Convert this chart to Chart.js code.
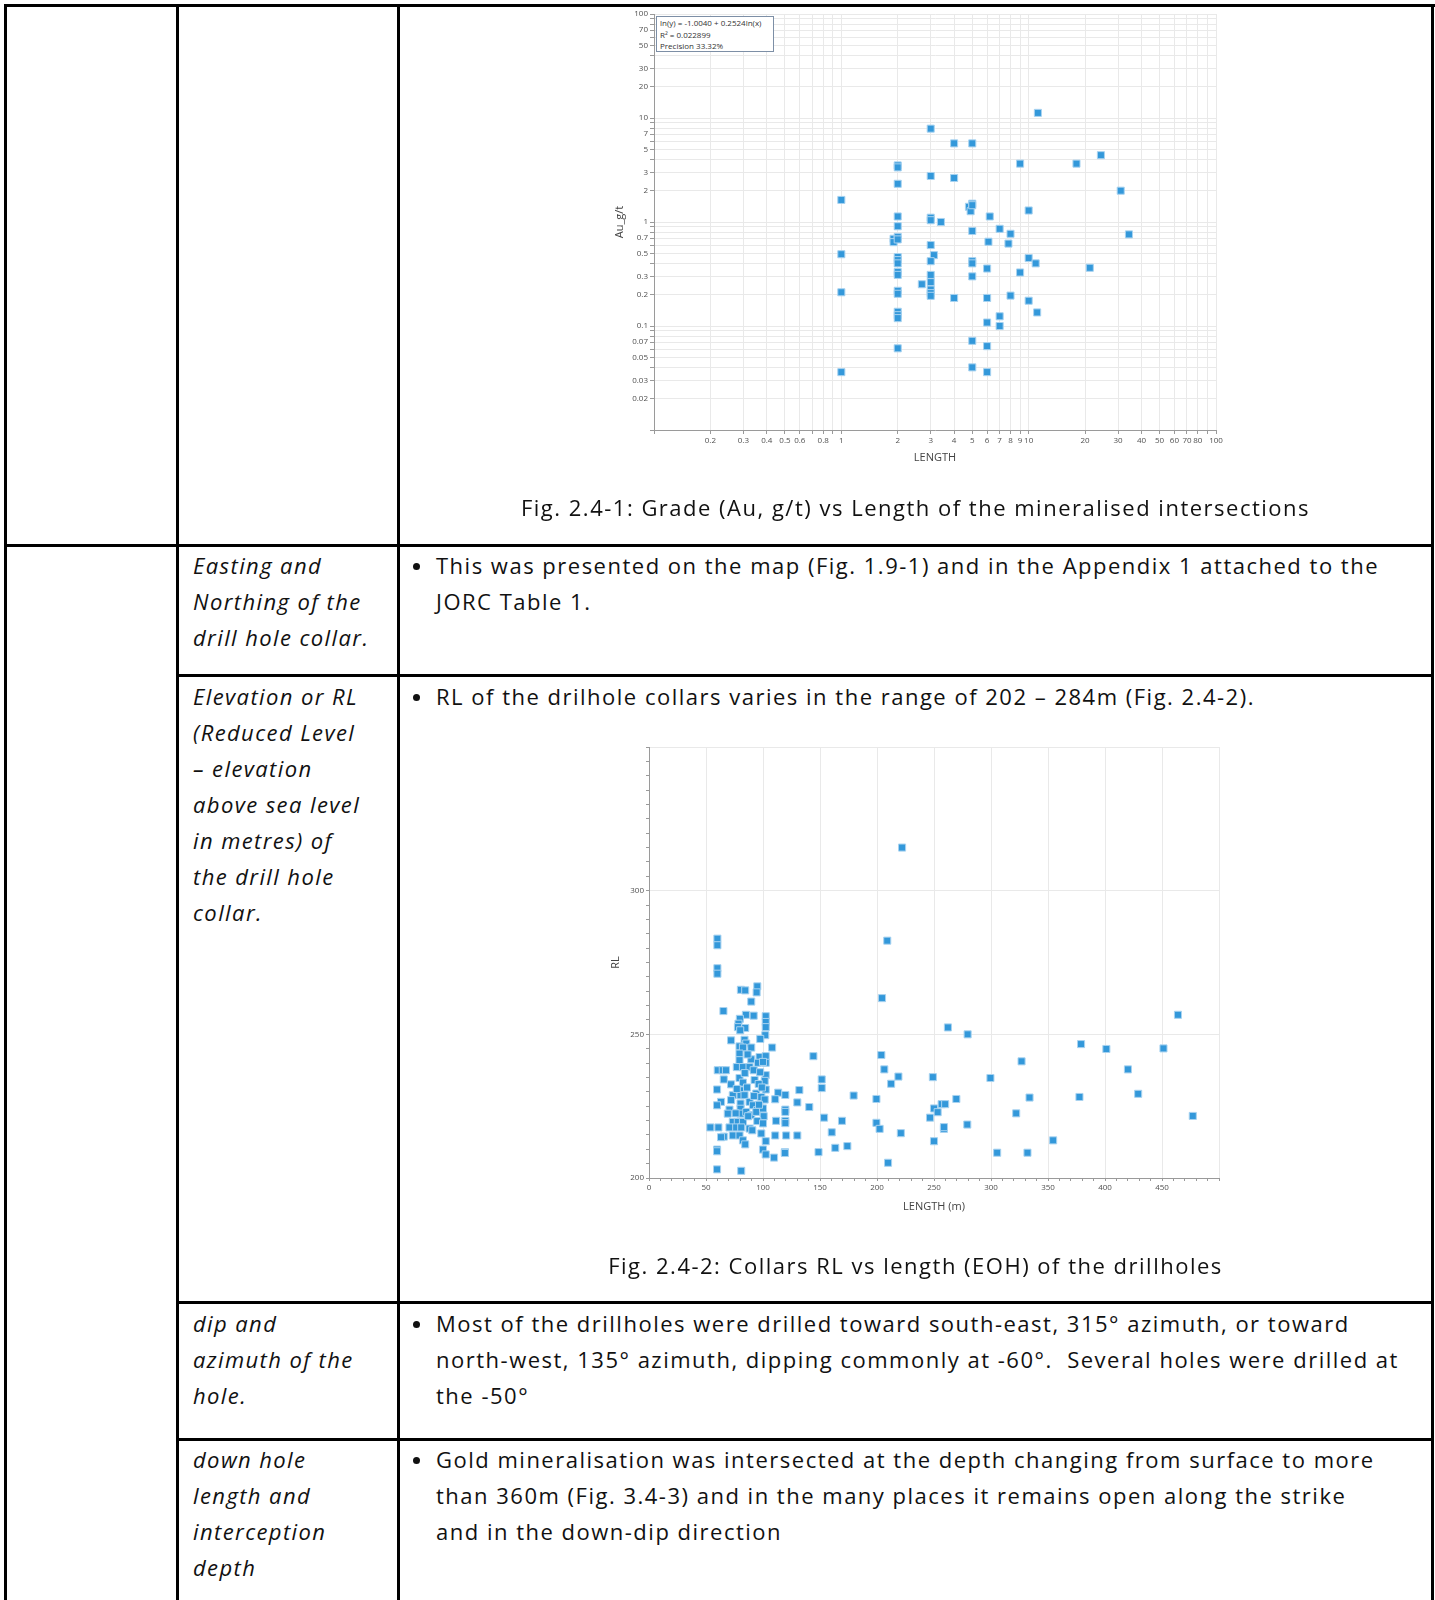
<!DOCTYPE html>
<html>
<head>
<meta charset="utf-8">
<script src="https://cdn.jsdelivr.net/npm/chart.js@4.4.0/dist/chart.umd.min.js"></script>
<style>
html, body { margin: 0; padding: 0; background: #fff; }
#page { position: relative; width: 1435px; height: 1600px; overflow: hidden; font-family: 'Open Sans', sans-serif; color: #111; }
.ln { position: absolute; background: #000; }
.tx { position: absolute; white-space: nowrap; font-size: 22px; line-height: 36px; letter-spacing: 1.5px; }
.it { font-style: italic; letter-spacing: 1.4px; }
.cap { position: absolute; white-space: nowrap; font-size: 22px; line-height: 36px; letter-spacing: 1.5px; left: 398px; width: 1035px; text-align: center; }
.dot { position: absolute; left: 413px; width: 7px; height: 7px; border-radius: 50%; background: #111; }
canvas { position: absolute; }
#fitbox { position: absolute; left: 656px; top: 16px; width: 118px; height: 36px; border: 1px solid #7d8fa6; background: #fff; font-size: 8px; line-height: 11.5px; color: #333; padding-left: 3px; box-sizing: border-box; }
</style>
</head>
<body>
<div id="page">
  <canvas id="grade" width="625" height="470" style="left:600px;top:6px;"></canvas>
  <div id="fitbox">ln(y) = -1.0040 + 0.2524ln(x)<br>R² = 0.022899<br>Precision 33.32%</div>
  <canvas id="collar" width="630" height="490" style="left:600px;top:735px;"></canvas>

  <!-- table lines -->
  <div class="ln" style="left:4px;top:4px;width:1431px;height:3px;"></div>
  <div class="ln" style="left:4px;top:4px;width:3px;height:1600px;"></div>
  <div class="ln" style="left:176px;top:4px;width:3px;height:1600px;"></div>
  <div class="ln" style="left:397px;top:4px;width:3px;height:1600px;"></div>
  <div class="ln" style="left:1431px;top:4px;width:3px;height:1600px;"></div>
  <div class="ln" style="left:4px;top:544px;width:1430px;height:3px;"></div>
  <div class="ln" style="left:176px;top:674px;width:1258px;height:3px;"></div>
  <div class="ln" style="left:176px;top:1301px;width:1258px;height:3px;"></div>
  <div class="ln" style="left:176px;top:1438px;width:1258px;height:3px;"></div>

  <!-- captions -->
  <div class="cap" style="top:489px;">Fig. 2.4-1: Grade (Au, g/t) vs Length of the mineralised intersections</div>
  <div class="cap" style="top:1247px;">Fig. 2.4-2: Collars RL vs length (EOH) of the drillholes</div>

  <!-- row 2 -->
  <div class="tx it" style="left:193px;top:547px;">Easting and<br>Northing of the<br>drill hole collar.</div>
  <div class="dot" style="top:563px;"></div>
  <div class="tx" style="left:436px;top:547px;">This was presented on the map (Fig. 1.9-1) and in the Appendix 1 attached to the<br>JORC Table 1.</div>

  <!-- row 3 -->
  <div class="tx it" style="left:193px;top:678px;">Elevation or RL<br>(Reduced Level<br>– elevation<br>above sea level<br>in metres) of<br>the drill hole<br>collar.</div>
  <div class="dot" style="top:694px;"></div>
  <div class="tx" style="left:436px;top:678px;">RL of the drilhole collars varies in the range of 202 – 284m (Fig. 2.4-2).</div>

  <!-- row 4 -->
  <div class="tx it" style="left:193px;top:1305px;">dip and<br>azimuth of the<br>hole.</div>
  <div class="dot" style="top:1321px;"></div>
  <div class="tx" style="left:436px;top:1305px;">Most of the drillholes were drilled toward south-east, 315° azimuth, or toward<br>north-west, 135° azimuth, dipping commonly at -60°.&nbsp; Several holes were drilled at<br>the -50°</div>

  <!-- row 5 -->
  <div class="tx it" style="left:193px;top:1441px;">down hole<br>length and<br>interception<br>depth</div>
  <div class="dot" style="top:1457px;"></div>
  <div class="tx" style="left:436px;top:1441px;">Gold mineralisation was intersected at the depth changing from surface to more<br>than 360m (Fig. 3.4-3) and in the many places it remains open along the strike<br>and in the down-dip direction</div>
</div>

<script>
// ---------------- Fig 2.4-1 : grade vs length (log-log) ----------------
var gradeLength = [11.2, 3, 4, 5, 9, 18, 24.3, 2, 2, 3, 4, 2, 31, 1, 4.8, 4.9, 5, 5, 10, 2,
  3, 3, 3.4, 6.2, 2, 7, 8, 5, 34.3, 1.9, 2, 1.9, 2, 6.1, 7.8, 3, 1, 3.12, 2, 2,
  2, 3, 5, 5, 10, 10.9, 21.2, 6, 2, 2, 3, 9, 5, 3, 2.69, 2, 2, 3, 3, 3,
  1, 4, 6, 8, 10, 11.1, 2, 2, 2, 7, 6, 7, 5, 6, 2, 5, 1, 6];
var gradeAu = [11.2, 7.9, 5.7, 5.7, 3.64, 3.64, 4.39, 3.5, 3.35, 2.77, 2.65, 2.33, 2.0, 1.63, 1.40, 1.27, 1.5, 1.45, 1.29, 1.13,
  1.10, 1.04, 1.0, 1.13, 0.91, 0.86, 0.77, 0.82, 0.76, 0.69, 0.72, 0.64, 0.68, 0.646, 0.62, 0.6, 0.49, 0.48, 0.46, 0.43,
  0.40, 0.42, 0.42, 0.40, 0.45, 0.40, 0.363, 0.357, 0.33, 0.31, 0.31, 0.327, 0.30, 0.264, 0.252, 0.218, 0.204, 0.224, 0.207, 0.195,
  0.211, 0.186, 0.186, 0.196, 0.175, 0.135, 0.137, 0.127, 0.119, 0.124, 0.108, 0.1, 0.072, 0.064, 0.061, 0.040, 0.036, 0.036];
var gradeXLabels = [0.2, 0.3, 0.4, 0.5, 0.6, 0.8, 1, 2, 3, 4, 5, 6, 7, 8, 9, 10, 20, 30, 40, 50, 60, 70, 80, 100];
var gradeYLabels = [0.02, 0.03, 0.05, 0.07, 0.1, 0.2, 0.3, 0.5, 0.7, 1, 2, 3, 5, 7, 10, 20, 30, 50, 70, 100];

// ---------------- Fig 2.4-2 : collar RL vs hole length ----------------
var collarLength = [222, 209, 60, 60, 60, 60, 80.6, 84.4, 95, 94.4, 89.7, 65.3, 85, 91.8, 102.4, 102.4, 102.4, 79.7, 78.5, 84.4,
  78, 80, 102, 72, 83.8, 85.3, 79.4, 97.6, 108, 89.7, 82.4, 79.4, 79.4, 79.4, 89.7, 97, 102.4, 102.4, 95.6, 100,
  77, 82.4, 60.3, 64.7, 67.5, 88.2, 91.8, 102.4, 101.5, 65.6, 72, 79.4, 82.4, 92.6, 96.2, 59.7, 80.3, 80.3, 83.8, 102.4,
  73.5, 72, 94.1, 98.5, 101.5, 63.2, 59.7, 88.2, 91.2, 94.7, 80.3, 80.3, 80.3, 70.6, 69.1, 85.3, 89.7, 94.1, 100, 100.6,
  73.5, 77.9, 82.4, 95, 100, 53.8, 60.9, 70.6, 76.5, 80.9, 88.2, 90.6, 98.5, 65.6, 63.2, 73.5, 79.4, 82.4, 102.4, 84.4,
  59.7, 59.7, 100, 102.4, 109.7, 59.7, 80.9, 84, 86, 77, 87, 97.5, 99, 96.5, 76, 86.5, 92,
  204.4, 464, 262.2, 279.5, 379, 401.2, 451.3, 144.2, 203.8, 326.8, 206.4, 420.1, 218.8, 249, 299.5, 151.5, 212.4, 131.9, 151.5, 113.3,
  119.6, 179.5, 199.5, 269.6, 333.8, 377.6, 429.1, 110.7, 130.1, 256.7, 259.8, 140.6, 250, 253.2, 119.6, 119.6, 322.1, 477, 153.6, 246.5,
  111.5, 169.3, 119.6, 119.6, 199.5, 279.2, 202.3, 258.7, 258.7, 160.3, 220.9, 110.7, 120.3, 130.1, 250, 354.5, 148.7, 163.4, 174, 119.2,
  119.2, 305.4, 332, 209.7];
var collarRL = [315, 282.6, 283.3, 281, 273, 271.1, 265.5, 265.3, 266.7, 264.6, 261.4, 258.1, 256.8, 256.5, 256.3, 254.3, 252.5, 255.4, 253.7, 252.2,
  252.5, 251.4, 249.7, 247.9, 248.1, 246.8, 245.8, 248.4, 245.4, 245.4, 245.4, 243.3, 241, 238.6, 241.3, 242.1, 242.4, 240.1, 240.1, 240.4,
  238.6, 238.6, 237.5, 237.5, 237.5, 238.6, 237.5, 235.8, 233.8, 234.3, 232.6, 234.8, 233.2, 234.1, 232.7, 230.8, 230.5, 228.8, 228.8, 230.8,
  228.8, 227.1, 229.4, 228.2, 227.3, 226.5, 225.3, 226.5, 225.3, 223.6, 225.9, 224.1, 222.4, 223.8, 222.4, 223, 221.9, 223, 224.2, 221.5,
  219.5, 219.5, 219.5, 219.8, 219, 217.6, 217.6, 217.6, 217.6, 217.6, 217.2, 216.6, 215.5, 214.4, 214.2, 214.8, 214.8, 213.1, 212.8, 211.7,
  209.9, 209.3, 209.9, 208.2, 207.1, 203, 202.5, 236.5, 231.5, 231, 221.5, 236.8, 231.5, 225.5, 222.5, 243, 228.5,
  262.6, 256.8, 252.4, 250, 246.6, 244.9, 245.1, 242.4, 242.8, 240.6, 237.8, 237.8, 235.3, 235.1, 234.8, 234.3, 232.8, 230.6, 231.3, 229.7,
  228.9, 228.7, 227.5, 227.5, 228, 228.2, 229.3, 227.4, 226.3, 225.7, 225.7, 224.7, 224.2, 222.9, 223.8, 223, 222.5, 221.6, 221, 221,
  219.9, 219.9, 219.9, 219.1, 219.2, 218.6, 217.1, 217.1, 217.7, 215.9, 215.6, 214.8, 214.8, 214.8, 212.8, 213.1, 209, 210.5, 211.1, 209,
  208.7, 208.8, 208.8, 205.3];
var collarXLabels = [0, 50, 100, 150, 200, 250, 300, 350, 400, 450];
var collarYLabels = [200, 250, 300];

var pointFill = '#3398da';
var pointEdge = '#a9d3f0';
var gridColor = '#e9e9e9';
var axisColor = '#9a9a9a';
var labelColor = '#505050';

function logSteps(min, max) {
  var out = [];
  for (var e = Math.round(Math.log10(min)); Math.pow(10, e) < max; e++) {
    for (var k = 1; k < 10; k++) out.push(Number((k * Math.pow(10, e)).toPrecision(2)));
  }
  out.push(max);
  return out.filter(function (v) { return v >= min && v <= max; });
}
function linSteps(min, max, step) {
  var out = [];
  for (var v = min; v <= max; v += step) out.push(v);
  return out;
}
function inList(list, v) {
  return list.some(function (l) { return Math.abs(l - v) < 1e-9; });
}
function pairs(xs, ys) {
  return xs.map(function (x, i) { return { x: x, y: ys[i] }; });
}

Chart.defaults.font.family = "'Open Sans', sans-serif";
Chart.defaults.color = labelColor;

var grade = new Chart(document.getElementById('grade'), {
  type: 'scatter',
  data: {
    datasets: [{
      label: 'Au_g/t',
      data: pairs(gradeLength, gradeAu),
      pointStyle: 'rect',
      pointRadius: 5,
      backgroundColor: pointFill,
      borderColor: pointEdge,
      borderWidth: 1
    }]
  },
  options: {
    responsive: false,
    animation: false,
    events: [],
    devicePixelRatio: 1,
    layout: { padding: { top: 8, right: 9, left: 0, bottom: 0 } },
    plugins: { legend: { display: false }, tooltip: { enabled: false } },
    scales: {
      x: {
        type: 'logarithmic', min: 0.1, max: 100,
        afterBuildTicks: function (s) { s.ticks = logSteps(0.1, 100).map(function (v) { return { value: v }; }); },
        afterFit: function (s) { s.height = 46; },
        ticks: {
          autoSkip: false, maxRotation: 0, padding: 2, font: { size: 8 },
          callback: function (v) { return inList(gradeXLabels, v) ? String(v) : ''; }
        },
        grid: { color: gridColor, tickColor: axisColor, tickLength: 4 },
        border: { color: axisColor },
        title: { display: true, text: 'LENGTH', font: { size: 11 }, color: '#444', padding: 12 }
      },
      y: {
        type: 'logarithmic', min: 0.01, max: 100,
        afterBuildTicks: function (s) { s.ticks = logSteps(0.01, 100).map(function (v) { return { value: v }; }); },
        afterFit: function (s) { s.width = 54; },
        ticks: {
          autoSkip: false, padding: 2, font: { size: 8 },
          callback: function (v) { return inList(gradeYLabels, v) ? String(v) : ''; }
        },
        grid: { color: gridColor, tickColor: axisColor, tickLength: 4 },
        border: { color: axisColor },
        title: { display: true, text: 'Au_g/t', font: { size: 11 }, color: '#444', padding: 13 }
      }
    }
  }
});

var collar = new Chart(document.getElementById('collar'), {
  type: 'scatter',
  data: {
    datasets: [{
      label: 'RL',
      data: pairs(collarLength, collarRL),
      pointStyle: 'rect',
      pointRadius: 5,
      backgroundColor: pointFill,
      borderColor: pointEdge,
      borderWidth: 1
    }]
  },
  options: {
    responsive: false,
    animation: false,
    events: [],
    devicePixelRatio: 1,
    layout: { padding: { top: 12, right: 11, left: 0, bottom: 0 } },
    plugins: { legend: { display: false }, tooltip: { enabled: false } },
    scales: {
      x: {
        type: 'linear', min: 0, max: 500,
        afterBuildTicks: function (s) { s.ticks = linSteps(0, 500, 10).map(function (v) { return { value: v }; }); },
        afterFit: function (s) { s.height = 47; },
        ticks: {
          autoSkip: false, maxRotation: 0, padding: 2, font: { size: 8 },
          callback: function (v) { return inList(collarXLabels, v) ? String(v) : ''; }
        },
        grid: {
          color: function (c) { return c.tick && c.tick.value % 50 === 0 ? gridColor : 'rgba(0,0,0,0)'; },
          tickColor: axisColor, tickLength: 3
        },
        border: { color: axisColor },
        title: { display: true, text: 'LENGTH (m)', font: { size: 11 }, color: '#444', padding: 12 }
      },
      y: {
        type: 'linear', min: 200, max: 350,
        afterBuildTicks: function (s) { s.ticks = linSteps(200, 350, 5).map(function (v) { return { value: v }; }); },
        afterFit: function (s) { s.width = 49; },
        ticks: {
          autoSkip: false, padding: 2, font: { size: 8 },
          callback: function (v) { return inList(collarYLabels, v) ? String(v) : ''; }
        },
        grid: {
          color: function (c) { return c.tick && c.tick.value % 50 === 0 ? gridColor : 'rgba(0,0,0,0)'; },
          tickColor: axisColor, tickLength: 3
        },
        border: { color: axisColor },
        title: { display: true, text: 'RL', font: { size: 11 }, color: '#444', padding: 9 }
      }
    }
  }
});
</script>
</body>
</html>
